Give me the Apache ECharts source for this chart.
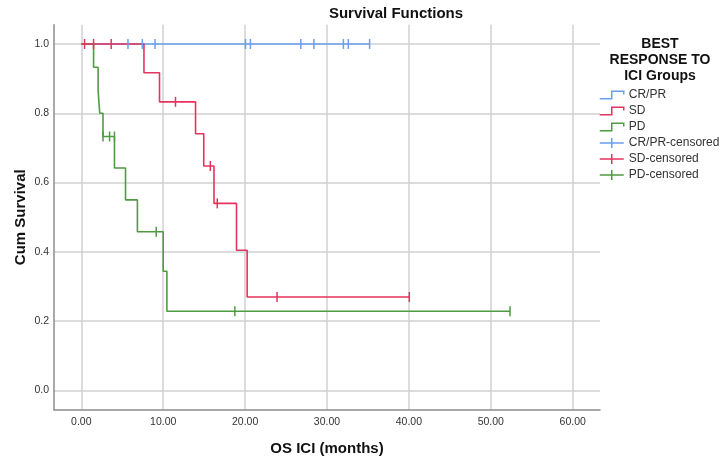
<!DOCTYPE html>
<html>
<head>
<meta charset="utf-8">
<script src="https://cdn.jsdelivr.net/npm/echarts@6/dist/echarts.min.js"></script>
<style>html,body{margin:0;padding:0;background:#fff;}#chart{width:727px;height:463px;}</style>
</head>
<body>
<div id="chart"></div>
<script>
// ---- data ----
const xTicks = [0, 10, 20, 30, 40, 50, 60];
const yTicks = [0, 0.2, 0.4, 0.6, 0.8, 1.0];

const groupNames = ['CR/PR', 'SD', 'PD'];

const crprTime = [0, 35.2];
const crprSurv = [1.0, 1.0];
const crprCensorTime = [5.7, 7.45, 9.0, 20.05, 20.65, 26.8, 28.4, 32.0, 32.6, 35.2];
const crprCensorSurv = [1.0, 1.0, 1.0, 1.0, 1.0, 1.0, 1.0, 1.0, 1.0, 1.0];

const sdTime = [0, 7.65, 9.55, 13.95, 14.95, 16.2, 18.95, 20.25, 40.05];
const sdSurv = [1.0, 0.917, 0.833, 0.741, 0.648, 0.540, 0.405, 0.270, 0.270];
const sdCensorTime = [0.4, 1.5, 3.65, 11.5, 15.75, 16.6, 23.9, 40.05];
const sdCensorSurv = [1.0, 1.0, 1.0, 0.833, 0.648, 0.540, 0.270, 0.270];

const pdTime = [0, 1.5, 2.05, 2.25, 2.65, 4.05, 5.4, 6.85, 10.0, 10.45, 52.35];
const pdSurv = [1.0, 0.933, 0.867, 0.800, 0.733, 0.642, 0.550, 0.458, 0.344, 0.229, 0.229];
const pdCensorTime = [2.65, 3.45, 4.05, 9.15, 18.75, 52.35];
const pdCensorSurv = [0.733, 0.733, 0.733, 0.458, 0.229, 0.229];

// ---- styling ----
const colors = ['#6a9fec', '#e6335d', '#4f9b42'];
const lineZ = [10, 12, 11];
const FONT = '"Liberation Sans", Arial, sans-serif';
const zip = (a, b) => a.map((v, i) => [v, b[i]]);

const curves = [zip(crprTime, crprSurv), zip(sdTime, sdSurv), zip(pdTime, pdSurv)];
const censors = [zip(crprCensorTime, crprCensorSurv), zip(sdCensorTime, sdCensorSurv), zip(pdCensorTime, pdCensorSurv)];

const stepIcon = 'path://M0,7L11,7L11,0L22,0L22,3';
const plusIcon = 'path://M0,5L24,5M12,0L12,10';

const series = [{
  type: 'line', name: 'grid', data: [], silent: true, z: 0,
  markLine: {
    z: 0, silent: true, symbol: 'none', animation: false,
    label: { show: false },
    lineStyle: { color: '#d0d0d0', width: 1.5, type: 'solid' },
    data: xTicks.map(v => ({ xAxis: v })).concat(yTicks.map(v => ({ yAxis: v })))
  }
}];
groupNames.forEach((g, i) => {
  series.push({
    type: 'line', name: g, data: curves[i], step: 'end', showSymbol: false, symbol: 'none',
    lineStyle: { color: colors[i], width: 1.6 }, itemStyle: { color: colors[i] }, z: lineZ[i]
  });
});
groupNames.forEach((g, i) => {
  series.push({
    type: 'scatter', name: g + '-censored', data: censors[i], symbol: 'rect', symbolSize: [1.5, 10],
    itemStyle: { color: colors[i], opacity: 1 }, z: 13
  });
});

const legendData = groupNames.map((g, i) => ({
  name: g, icon: stepIcon,
  itemStyle: { color: 'rgba(0,0,0,0)', borderColor: colors[i], borderWidth: 1.5 }
})).concat(groupNames.map((g, i) => ({
  name: g + '-censored', icon: plusIcon,
  itemStyle: { color: 'rgba(0,0,0,0)', borderColor: colors[i], borderWidth: 1.5 }
})));

const chart = echarts.init(document.getElementById('chart'), null, { renderer: 'canvas' });
chart.setOption({
  animation: false,
  backgroundColor: '#ffffff',
  textStyle: { fontFamily: FONT },
  title: [{
    text: 'Survival Functions', left: 396, top: 6, textAlign: 'center', padding: 0,
    textStyle: { fontFamily: FONT, fontSize: 15, fontWeight: 'bold', color: '#111' }
  }, {
    text: 'BEST\nRESPONSE TO\nICI Groups', left: 660, top: 36, textAlign: 'center', padding: 0,
    textStyle: { fontFamily: FONT, fontSize: 14, fontWeight: 'bold', color: '#111', lineHeight: 16 }
  }],
  legend: {
    orient: 'vertical', left: 599, top: 89, itemWidth: 24, itemHeight: 10, itemGap: 4,
    selectedMode: false, padding: 0, data: legendData,
    textStyle: { fontFamily: FONT, fontSize: 12, color: '#333', lineHeight: 12 }
  },
  grid: { left: 54, right: 127, top: 24.7, bottom: 53.2, containLabel: false },
  xAxis: {
    type: 'value', min: -3.3333, max: 63.3333,
    name: 'OS ICI (months)', nameLocation: 'middle', nameGap: 32, nameMoveOverlap: false,
    nameTextStyle: { fontFamily: FONT, fontSize: 15, fontWeight: 'bold', color: '#111' },
    axisLine: { show: true, onZero: false, lineStyle: { color: '#8c8c8c', width: 1.5 } },
    axisTick: { show: false, customValues: xTicks },
    splitLine: { show: false },
    axisLabel: { customValues: xTicks, margin: 7, fontSize: 10.5, color: '#333', fontFamily: FONT,
      formatter: v => v.toFixed(2) }
  },
  yAxis: {
    type: 'value', min: -0.05556, max: 1.05556,
    name: 'Cum Survival', nameLocation: 'middle', nameGap: 26, nameRotate: 90, nameMoveOverlap: false,
    nameTextStyle: { fontFamily: FONT, fontSize: 15, fontWeight: 'bold', color: '#111' },
    axisLine: { show: true, onZero: false, lineStyle: { color: '#8c8c8c', width: 1.5 } },
    axisTick: { show: false, customValues: yTicks },
    splitLine: { show: false },
    axisLabel: { customValues: yTicks, margin: 5, fontSize: 10.5, color: '#333', fontFamily: FONT,
      formatter: v => v.toFixed(1) }
  },
  series: series
});
</script>
</body>
</html>
